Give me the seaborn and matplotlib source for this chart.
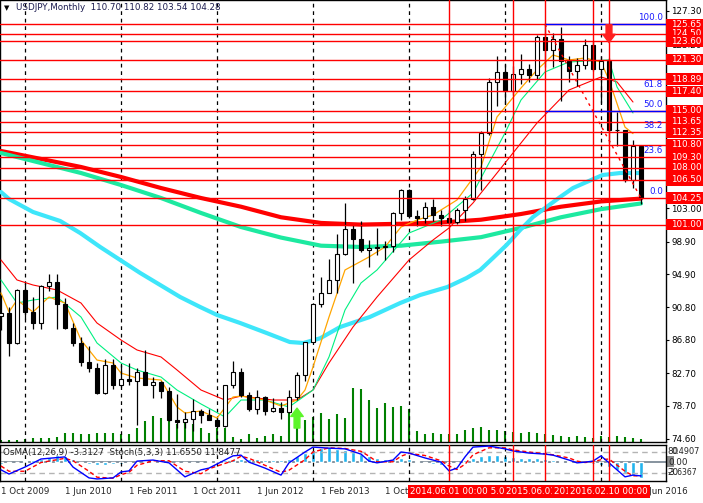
import matplotlib
matplotlib.use("Agg")
import matplotlib.pyplot as plt
import matplotlib.transforms as mtransforms
from matplotlib.patches import Rectangle
import numpy as np
import pandas as pd
import seaborn as sns

# USDJPY monthly candles, bar 0 = Oct 2009 ... bar 80 = Jun 2016
opens = [89.7, 90.1, 86.4, 93.0, 90.2, 88.9, 93.4, 93.9, 91.2, 88.3,
         86.4, 84.1, 83.4, 80.3, 83.7, 81.2, 82.0, 81.7, 82.9, 81.2,
         81.6, 80.5, 76.9, 76.7, 77.1, 78.1, 77.6, 76.9, 76.2, 81.3,
         82.9, 80.0, 78.3, 79.8, 78.1, 78.4, 77.9, 79.8, 82.5, 86.5,
         91.2, 92.6, 94.2, 97.4, 100.4, 99.2, 97.9, 98.1, 98.3, 98.4,
         102.4, 105.3, 102.0, 101.8, 103.2, 102.2, 101.8, 101.3, 102.8, 104.1,
         109.7, 112.3, 118.6, 119.8, 117.5, 119.6, 120.1, 119.4, 124.1, 122.5,
         123.9, 121.2, 119.9, 120.6, 123.1, 120.2, 121.1, 112.7, 112.6, 106.5,
         110.70]
highs = [92.3, 90.8, 93.1, 93.8, 92.1, 93.6, 94.9, 94.9, 92.0, 88.9,
         87.2, 86.0, 84.0, 84.4, 84.5, 83.7, 84.0, 83.3, 85.5, 82.2,
         81.7, 81.0, 80.2, 77.9, 79.5, 78.3, 78.3, 77.2, 81.3, 84.2,
         83.3, 80.4, 80.6, 79.9, 79.6, 79.2, 80.6, 82.8, 86.6, 91.3,
         94.5, 96.7, 99.9, 103.7, 100.9, 101.5, 99.1, 100.6, 99.0, 102.6,
         105.4, 105.4, 102.8, 103.8, 104.1, 102.8, 102.8, 103.1, 104.5, 110.1,
         112.5, 119.0, 121.8, 120.8, 120.5, 122.0, 120.8, 124.4, 125.85, 124.6,
         125.3, 121.7, 121.5, 123.8, 123.6, 121.7, 121.5, 114.9, 112.7, 111.4,
         110.82]
lows = [88.0, 84.8, 86.3, 89.4, 88.1, 88.1, 92.8, 88.1, 88.1, 86.0,
        83.6, 82.9, 80.2, 80.2, 80.8, 81.0, 81.3, 76.3, 81.2, 79.6,
        79.7, 76.8, 75.9, 75.9, 75.6, 76.6, 76.9, 75.9, 76.1, 80.9,
        79.8, 78.1, 77.7, 77.6, 77.9, 77.1, 77.8, 79.4, 81.7, 86.5,
        90.8, 92.6, 92.6, 97.3, 93.8, 97.6, 95.8, 97.3, 96.6, 97.6,
        101.6, 101.8, 100.8, 101.2, 101.4, 100.8, 101.1, 101.1, 101.5, 104.0,
        105.2, 112.0, 115.6, 115.9, 116.9, 118.3, 118.5, 118.9, 120.4, 120.4,
        116.2, 118.6, 118.1, 120.2, 119.9, 115.97, 110.99, 110.7, 106.3, 105.5,
        103.54]
closes = [90.1, 86.4, 93.0, 90.2, 88.9, 93.4, 93.9, 91.2, 88.3, 86.4,
          84.1, 83.4, 80.3, 83.7, 81.2, 82.0, 81.7, 82.9, 81.2, 81.6,
          80.5, 76.9, 76.7, 77.1, 78.1, 77.6, 76.9, 76.2, 81.3, 82.9,
          80.0, 78.3, 79.8, 78.1, 78.4, 77.9, 79.8, 82.5, 86.5, 91.2,
          92.6, 94.2, 97.4, 100.4, 99.2, 97.9, 98.1, 98.3, 98.4, 102.4,
          105.3, 102.0, 101.8, 103.2, 102.2, 101.8, 101.3, 102.8, 104.1, 109.7,
          112.3, 118.6, 119.8, 117.5, 119.6, 120.1, 119.4, 124.1, 122.5, 123.9,
          121.2, 119.9, 120.6, 123.1, 120.2, 121.1, 112.7, 112.6, 106.5, 110.7,
          104.28]
volumes = [2, 2, 2, 3, 4, 4, 4, 5, 9, 9,
           8, 8, 9, 9, 9, 8, 8, 14, 21, 26,
           24, 21, 18, 21, 18, 14, 9, 14, 14, 5,
           3, 8, 4, 6, 8, 6, 29, 31, 22, 25,
           29, 23, 28, 24, 54, 53, 42, 34, 39, 35,
           36, 33, 11, 8, 9, 8, 8, 8, 12, 14,
           15, 12, 12, 11, 10, 9, 10, 9, 8, 7,
           6, 5, 6, 5, 4, 6, 5, 6, 5, 4,
           3]

# moving averages (bar, price)
long_red_bar = [0, 5, 10, 15, 20, 25, 30, 35, 40, 45, 50, 55, 60, 65, 70, 75, 80]
long_red_val = [110.06, 109.08, 108.09, 106.86, 105.5, 104.27, 103.2, 101.9, 101.2,
                101.0, 101.1, 101.25, 101.6, 102.3, 103.2, 103.85, 104.2]
long_green_bar = [0, 5, 10, 15, 20, 25, 30, 35, 40, 45, 50, 55, 60, 65, 70, 75, 80]
long_green_val = [109.81, 108.58, 107.35, 105.87, 104.27, 102.43, 100.7, 99.4, 98.4,
                  98.24, 98.4, 98.9, 99.45, 100.6, 101.9, 102.9, 103.6]
cyan_bar = [0, 1, 4, 7.4, 9.9, 12.4, 14.9, 17.4, 19.9, 22.4, 24.9, 27, 29.9, 33.2,
            36.1, 37.8, 39.9, 42.4, 46.1, 49.9, 52.4, 55.8, 58.2, 59.9, 61.5, 63.2,
            64.9, 66.5, 68.2, 69.9, 71.5, 73.2, 75.2, 77.4, 79.9]
cyan_val = [105.01, 104.15, 102.55, 101.44, 99.96, 98.24, 96.64, 95.04, 93.56, 92.08,
            90.85, 89.87, 88.88, 87.65, 86.54, 86.42, 87.0, 88.39, 89.62, 91.34, 92.33,
            93.31, 94.42, 95.41, 96.89, 98.49, 100.33, 101.93, 103.17, 104.4, 105.5,
            106.24, 107.1, 107.35, 107.35]
thin_red_bar = [0, 2, 4, 7, 10, 12, 15, 17, 20, 22, 25, 28, 30, 34, 37, 39, 41, 44,
                47, 51, 54, 56, 59, 63, 67, 71, 75, 77, 79]
thin_red_val = [96.64, 94.18, 93.56, 92.95, 91.34, 88.88, 86.79, 85.56, 84.7, 83.1,
                80.63, 79.4, 79.89, 79.4, 79.4, 80.63, 83.96, 88.39, 92.08, 96.64,
                99.1, 100.58, 103.66, 108.58, 113.51, 117.57, 119.17, 118.56, 116.09]
thin_green_bar = [0, 2, 4, 7, 10, 12, 15, 17, 20, 22, 25, 28, 30, 33, 36, 39, 41, 43,
                  45, 47, 51, 55, 59, 63, 65, 68, 71, 76, 77, 79]
thin_green_val = [94.18, 91.34, 91.71, 92.08, 89.62, 86.42, 83.96, 83.09, 82.23, 80.63,
                  78.91, 77.31, 79.4, 79.4, 78.54, 80.63, 84.7, 90.48, 93.81, 95.41,
                  99.96, 101.56, 104.89, 112.28, 116.34, 119.79, 121.02, 121.27, 117.94,
                  114.74]
orange_bar = [0, 1, 2, 4, 6, 8, 10, 12, 14, 15, 17, 20, 22, 23, 25, 27, 29, 30, 33,
              35, 37, 38, 39, 41, 43, 46, 48, 50, 52, 54, 57, 60, 62, 65, 67, 69, 71,
              73, 75, 76, 77, 78, 79]
orange_val = [92.58, 90.24, 91.71, 90.24, 92.08, 91.34, 86.79, 84.32, 83.96, 82.72,
              82.11, 81.86, 78.54, 77.8, 78.05, 77.18, 79.77, 79.89, 79.4, 78.66, 79.4,
              80.63, 83.46, 89.62, 95.41, 97.01, 98.24, 100.7, 101.56, 102.18, 104.03,
              108.09, 114.25, 117.82, 120.04, 121.88, 121.27, 121.51, 121.02, 118.8,
              115.9, 113.0, 112.2]

# oscillators
osma = [-0.42, -0.21, 0.1, 0.21, 0.42, 0.63, 1.05, 1.47, 1.26, 0.63,
        -0.21, -0.42, -0.63, -0.63, -0.42, -0.42, -0.21, 0.1, 0.21, 0.21,
        0.21, 0.1, -0.1, -0.21, -0.21, -0.1, 0.21, 0.31, 0.42, 0.63,
        0.63, 0.63, 0.63, 0.52, 0.42, 0.42, 0.63, 1.26, 1.89, 2.52,
        2.94, 3.15, 2.73, 2.52, 2.1, 1.68, 1.26, 0.84, 0.63, 0.63,
        0.84, 0.63, 0.21, -0.21, -0.42, -0.63, -0.42, 0.1, 0.42, 0.84,
        1.26, 1.47, 1.47, 1.26, 1.05, 0.84, 0.84, 0.84, 0.63, 0.42,
        0.31, 0.21, 0.1, -0.21, -0.42, -0.63, -1.05, -1.68, -2.31, -2.73,
        -3.31]
stoch_bar = [0, 1, 3, 5, 8, 9, 11, 12, 14, 15, 16, 17, 19, 21, 23, 25, 26, 29, 30, 31,
             33, 35, 36, 38, 39, 41, 43, 45, 46, 47, 49, 50, 51, 53, 55, 56, 57, 58, 59,
             61, 63, 64, 66, 68, 69, 71, 72, 73, 74, 75, 76, 78, 79, 80]
stoch_main = [29, 17, 37, 60, 66, 37, 6, 3, 6, 23, 26, 54, 57, 49, 9, 29, 34, 69, 71, 51,
              34, 14, 49, 80, 94, 91, 89, 74, 54, 49, 57, 80, 77, 63, 51, 26, 34, 66, 94,
              97, 89, 83, 77, 74, 71, 57, 49, 51, 54, 69, 49, 9, 14, 11.66]
stoch_signal = [40, 25, 25, 50, 62, 55, 25, 8, 5, 15, 22, 42, 55, 55, 25, 18, 32, 55, 68,
                62, 42, 22, 28, 58, 80, 92, 90, 82, 68, 52, 52, 68, 76, 70, 55, 40, 30,
                45, 72, 92, 92, 86, 80, 75, 72, 63, 54, 50, 52, 58, 60, 25, 12, 11.85]

# objects
h_levels = [125.65, 124.50, 123.60, 121.30, 118.89, 117.40, 115.00, 113.65, 112.35,
            110.80, 109.30, 108.00, 106.50, 104.25, 101.00]
price_ticks = [127.30, 123.20, 119.20, 115.10, 111.10, 107.00, 103.00, 98.90, 94.90,
               90.80, 86.80, 82.70, 78.70, 74.60]
fib_high, fib_low = 125.65, 104.25
fib_start_bar, fib_end_bar = 68, 80
fib_ratios = [100.0, 61.8, 50.0, 38.2, 23.6, 0.0]
vline_bars = [64, 56, 68, 74, 76]
vline_labels = ["2015.02.01 00:00", "2014.06.01 00:00", "2015.06.01 00:00",
                "2015.12.01 00:00", "2016.02.10 00:00"]
grid_bars = [3, 15, 27, 39, 51, 63, 75]
tick_bars = [0, 8, 16, 24, 32, 40, 48, 56, 64, 72, 80]
tick_labels = ["1 Oct 2009", "1 Jun 2010", "1 Feb 2011", "1 Oct 2011", "1 Jun 2012",
               "1 Feb 2013", "1 Oct 2013", "1 Jun 2014", "1 Feb 2015", "1 Oct 2015",
               "1 Jun 2016"]

sns.set_style("white")
plt.rcParams["font.family"] = ["DejaVu Sans"]
FS = 6.3

W, H = 703, 503
fig = plt.figure(figsize=(W / 100, H / 100), dpi=100)


def px_box(x0, y0, x1, y1):
    return [x0 / W, 1 - y1 / H, (x1 - x0) / W, (y1 - y0) / H]


XLIM = (-0.125, 83.125)
bars = np.arange(len(opens))
df = pd.DataFrame({"bar": bars, "open": opens, "high": highs, "low": lows,
                   "close": closes, "vol": volumes})

# ---- main window ----
ax_vol = fig.add_axes(px_box(0, 0, 666, 442))
ax_vol.vlines(df.bar, 0, df.vol, color="#008000", lw=1.5, zorder=2)
ax_vol.set_xlim(XLIM)
ax_vol.set_ylim(0, 442)
ax_vol.axis("off")

ax = fig.add_axes(px_box(0, 0, 666, 442))
ax.patch.set_visible(False)
ax.set_xlim(XLIM)
ax.set_ylim(74.23, 128.65)

for b in grid_bars:
    ax.axvline(b, color="black", ls=(0, (3, 3)), lw=0.9, zorder=1)

for bx, vx, col, lw in [(long_red_bar, long_red_val, "#ff0000", 3.0),
                        (long_green_bar, long_green_val, "#1de9a0", 3.0),
                        (cyan_bar, cyan_val, "#3ee6fa", 3.0),
                        (thin_red_bar, thin_red_val, "#ff0000", 0.8),
                        (thin_green_bar, thin_green_val, "#00f080", 0.8),
                        (orange_bar, orange_val, "#ffa500", 0.9)]:
    sns.lineplot(x=bx, y=vx, ax=ax, color=col, linewidth=lw, zorder=3, legend=False)

up = df.close >= df.open
ax.vlines(df.bar, df.low, df.high, color="black", lw=0.9, zorder=4)
body_lo = df[["open", "close"]].min(axis=1)
body_h = (df.close - df.open).abs().clip(lower=0.08)
ax.bar(df.bar, body_h, bottom=body_lo, width=0.62,
       color=np.where(up, "white", "black"), edgecolor="black", lw=0.8, zorder=5)

for lv in h_levels:
    ax.axhline(lv, color="red", lw=1.0, zorder=7)
for b in vline_bars:
    ax.axvline(b, color="red", lw=1.0, zorder=7)

# fibonacci retracement
fib_levels = [fib_low + (fib_high - fib_low) * r / 100 for r in fib_ratios]
ax.hlines([fib_levels[0], fib_levels[2]], fib_start_bar, XLIM[1], color="blue",
          lw=1.0, zorder=8)
ax.plot([fib_start_bar, fib_end_bar], [fib_high, fib_low], color="red",
        ls=(0, (2, 3)), lw=1.0, zorder=8)
blend = mtransforms.blended_transform_factory(ax.transAxes, ax.transData)
for r, lv in zip(fib_ratios, fib_levels):
    ax.text(663 / 666, lv + 0.25, f"{r:.1f}", color="#1a1aff", fontsize=FS,
            ha="right", va="bottom", transform=blend, zorder=9)

# signal arrows
ax.annotate("", xy=(37, 78.4), xytext=(37, 75.95), zorder=9,
            arrowprops=dict(arrowstyle="simple,head_length=0.6,head_width=0.9,tail_width=0.42",
                            color="#5cf52a", mutation_scale=10, shrinkA=0, shrinkB=0))
ax.annotate("", xy=(76, 123.4), xytext=(76, 125.6), zorder=9,
            arrowprops=dict(arrowstyle="simple,head_length=0.6,head_width=0.9,tail_width=0.42",
                            color="#ff2020", mutation_scale=10, shrinkA=0, shrinkB=0))

ax.yaxis.tick_right()
ax.set_yticks(price_ticks)
ax.set_yticklabels([f"{t:.2f}" for t in price_ticks])
ax.tick_params(axis="y", direction="out", length=2.2, width=0.8, pad=1.5,
               labelsize=FS, colors="black")
ax.tick_params(axis="x", bottom=False, labelbottom=False)
ax.set_xlabel("")
ax.set_ylabel("")
for s in ax.spines.values():
    s.set_color("black")
    s.set_linewidth(1.0)

# price labels of horizontal lines
hh = 5.8 / 8.121
for i, lv in enumerate(h_levels):
    ax.add_patch(Rectangle((1.0, lv - hh), 37 / 666, 2 * hh, transform=blend,
                           facecolor="red", edgecolor="none", clip_on=False,
                           zorder=20 + 2 * i))
    ax.text(671 / 666, lv, f"{lv:.2f}", color="white", fontsize=FS, ha="left",
            va="center", transform=blend, clip_on=False, zorder=21 + 2 * i)

# ---- oscillator window ----
ax_osma = fig.add_axes(px_box(0, 445, 666, 481))
ax_osma.bar(bars, osma, width=0.5, color="#22b4ee", zorder=2)
ax_osma.axhline(0, color="#7d8a96", lw=1.3, zorder=1)
ax_osma.set_xlim(XLIM)
ax_osma.set_ylim(-3.99, 3.57)
ax_osma.axis("off")

ax_osc = fig.add_axes(px_box(0, 445, 666, 481))
ax_osc.patch.set_visible(False)
ax_osc.set_xlim(XLIM)
ax_osc.set_ylim(-2.86, 100)
for lvl in (80, 20):
    ax_osc.axhline(lvl, color="#b4b4b4", ls=(0, (4, 3)), lw=1.0, zorder=1)
for b in grid_bars:
    ax_osc.axvline(b, color="black", ls=(0, (3, 3)), lw=0.9, zorder=1)
sns.lineplot(x=stoch_bar, y=stoch_signal, ax=ax_osc, color="red", linewidth=1.0,
             linestyle=(0, (3, 2)), zorder=3, legend=False)
sns.lineplot(x=stoch_bar, y=stoch_main, ax=ax_osc, color="blue", linewidth=1.0,
             zorder=4, legend=False)
for b in vline_bars:
    ax_osc.axvline(b, color="red", lw=1.0, zorder=7)
ax_osc.set_xlabel("")
ax_osc.set_ylabel("")
ax_osc.set_yticks([])
ax_osc.set_xticks(tick_bars, labels=tick_labels, ha="left")
ax_osc.tick_params(axis="x", direction="out", length=2.2, width=0.8, pad=2,
                   labelsize=FS)
for s in ax_osc.spines.values():
    s.set_color("black")
    s.set_linewidth(1.0)

ax_osc.text(3 / 666, 0.78, "OsMA(12,26,9) -3.3127  Stoch(5,3,3) 11.6550 11.8477",
            transform=ax_osc.transAxes, fontsize=FS, ha="left", va="center",
            color="#222222", zorder=9)

oblend = mtransforms.blended_transform_factory(ax_osc.transAxes, ax_osc.transData)
ax_osc.text(667 / 666, 80, "80", fontsize=FS, va="center", transform=oblend, clip_on=False)
ax_osc.text(671 / 666, 80, "0.4907", fontsize=5.9, va="center", transform=oblend,
            clip_on=False)
ax_osc.text(667 / 666, 20, "20", fontsize=FS, va="center", transform=oblend, clip_on=False)
ax_osc.text(668 / 666, 20, "-3.6367", fontsize=5.6, va="center", transform=oblend,
            clip_on=False)
ax_osc.add_patch(Rectangle((1.0, 51.4 - 15), 8 / 666, 32, transform=oblend,
                           facecolor="#8c8c8c", edgecolor="none", clip_on=False))
ax_osc.text(668 / 666, 51.4, "0.00", fontsize=FS, va="center", transform=oblend,
            clip_on=False, zorder=5)

# time labels of vertical lines
tblend = mtransforms.blended_transform_factory(ax_osc.transData, ax_osc.transAxes)
for i, (b, lab) in enumerate(zip(vline_bars, vline_labels)):
    ax_osc.text(b, -0.28, lab, transform=tblend, ha="center", va="center",
                fontsize=FS, color="white", clip_on=False, zorder=30 + i,
                bbox=dict(boxstyle="square,pad=0.22", facecolor="red", edgecolor="none"))

# header
fig.text(4 / W, 1 - 8 / H, "\u25bc", fontsize=5, va="center", color="black")
fig.text(16 / W, 1 - 8 / H, "USDJPY,Monthly  110.70 110.82 103.54 104.28",
         fontsize=FS, va="center", color="#1c1c50")

fig.savefig("out.png", dpi=100, facecolor="white")
